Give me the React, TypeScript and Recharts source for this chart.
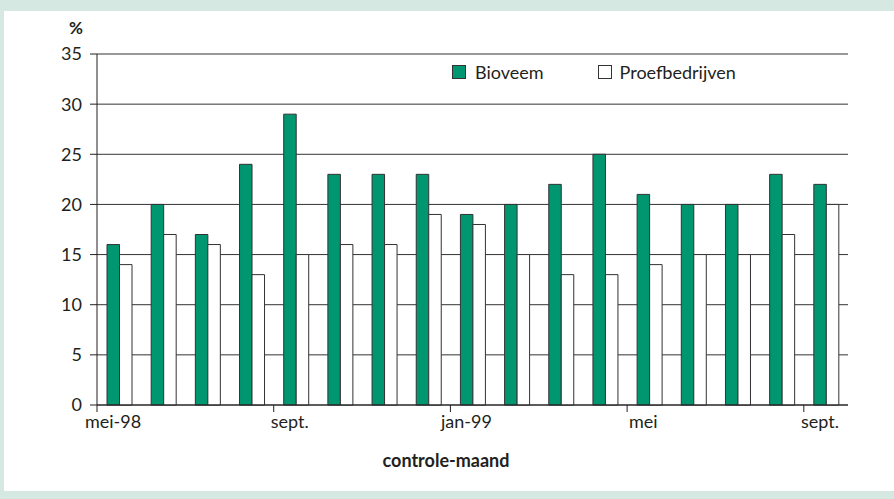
import React from 'react';
import { BarChart, Bar, XAxis, YAxis, CartesianGrid } from 'recharts';

const months = ['mei-98', 'jun', 'jul', 'aug', 'sept.', 'okt', 'nov', 'dec', 'jan-99', 'feb', 'mrt', 'apr', 'mei', 'jun', 'jul', 'aug', 'sept.'];
const bioveem = [16, 20, 17, 24, 29, 23, 23, 23, 19, 20, 22, 25, 21, 20, 20, 23, 22];
const proefbedrijven = [14, 17, 16, 13, 15, 16, 16, 19, 18, 15, 13, 13, 14, 15, 15, 17, 20];
const yTicks = [0, 5, 10, 15, 20, 25, 30, 35];

const data = months.map((m, i) => ({ month: m, Bioveem: bioveem[i], Proefbedrijven: proefbedrijven[i] }));

const W = 894;
const H = 499;
const M = { top: 54, right: 46, bottom: 64, left: 37 };
const Y_W = 60;
const FONT = 'Lato, "Open Sans", sans-serif';
const GREEN = '#009670';
const TEXT = '#231f20';
const HALF_BAND = (W - M.left - M.right - Y_W) / months.length / 2;

const XTick = (props: any) => {
  const { x, y, payload, index } = props;
  if (index % 4 !== 0) return null;
  return (
    <g>
      <line x1={x - HALF_BAND} x2={x - HALF_BAND} y1={y - 8} y2={y - 1} stroke="#231f20" strokeWidth={1} />
      <text x={x - 6} y={y + 15} textAnchor="middle" fill={TEXT} fontSize={18} fontFamily={FONT}>
        {payload.value}
      </text>
    </g>
  );
};

export default function App() {
  return (
    <div style={{ position: 'absolute', left: 0, top: 0, width: W, height: H, background: '#d5e8e1' }}>
      <div style={{ position: 'absolute', left: 4, top: 11, width: W - 4, height: 480, background: '#fff' }} />
      <div style={{ position: 'absolute', left: 0, top: 0 }}>
        <BarChart width={W} height={H} data={data} margin={M} barSize={12.5} barGap={0}>
          <CartesianGrid horizontal vertical={false} stroke="#333" strokeWidth={1} />
          <XAxis
            dataKey="month"
            interval={0}
            tickLine={false}
            axisLine={{ stroke: '#231f20' }}
            tick={<XTick />}
            height={30}
          />
          <YAxis
            domain={[0, 35]}
            ticks={yTicks}
            width={Y_W}
            tickSize={7}
            tickMargin={8}
            axisLine={{ stroke: '#231f20' }}
            tickLine={{ stroke: '#231f20' }}
            tick={{ fill: TEXT, fontSize: 18, fontFamily: FONT }}
          />
          <YAxis
            yAxisId="r"
            orientation="right"
            domain={[0, 35]}
            width={0}
            tick={false}
            tickLine={false}
            axisLine={{ stroke: '#777' }}
          />
          <Bar dataKey="Bioveem" fill={GREEN} stroke="#333" strokeWidth={1} isAnimationActive={false} />
          <Bar dataKey="Proefbedrijven" fill="#fff" stroke="#333" strokeWidth={1} isAnimationActive={false} />
        </BarChart>
      </div>
      <div style={{ position: 'absolute', left: 452, top: 61, display: 'flex', alignItems: 'center', fontFamily: FONT, fontSize: 18, color: TEXT }}>
        <span style={{ display: 'inline-block', width: 14, height: 14, background: GREEN, border: '1px solid #333', boxSizing: 'border-box', marginRight: 9 }} />
        <span style={{ marginRight: 54 }}>Bioveem</span>
        <span style={{ display: 'inline-block', width: 14, height: 14, background: '#fff', border: '1px solid #333', boxSizing: 'border-box', marginRight: 8 }} />
        <span>Proefbedrijven</span>
      </div>
      <div style={{ position: 'absolute', left: 69, top: 17, fontFamily: FONT, fontSize: 17, fontWeight: 700, color: TEXT }}>%</div>
      <div style={{ position: 'absolute', left: 0, top: 449, width: W - 2, textAlign: 'center', fontFamily: FONT, fontSize: 18, fontWeight: 700, color: TEXT }}>controle-maand</div>
    </div>
  );
}
